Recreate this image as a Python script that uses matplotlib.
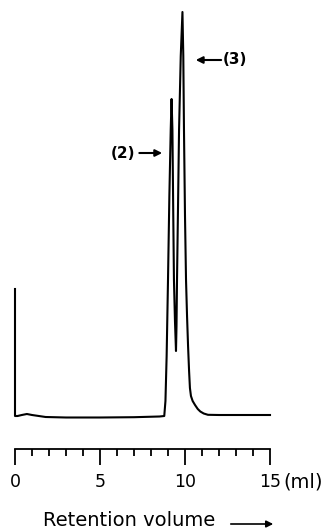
import matplotlib
matplotlib.use("Agg")
import matplotlib.pyplot as plt
from matplotlib.ticker import MultipleLocator

# Chromatogram trace (retention volume in ml, detector signal in arb. units)
volume_ml = [0.0, 0.0, 0.15, 0.4, 0.7, 1.0, 1.8, 3.0, 5.0, 7.0, 8.5, 8.78, 8.85, 8.92, 9.0, 9.08,
             9.16, 9.21, 9.26, 9.31, 9.35, 9.41, 9.47, 9.50, 9.53, 9.59, 9.65, 9.75, 9.85,
             9.90, 9.94, 10.0, 10.06, 10.12, 10.18, 10.24, 10.29, 10.35, 10.45, 10.59, 10.75,
             10.9, 11.1, 11.35, 12.0, 15.0]
signal = [127, 0, 0, 1, 2, 1, -1, -1.5, -1.5, -1.2, -0.5, 0, 15, 60, 136, 220,
          286, 317, 286, 200, 136, 95, 65, 90, 136, 210, 286, 360, 404,
          360, 286, 200, 136, 100, 70, 45, 28, 20, 15, 11, 7,
          4.5, 2.5, 1.2, 1, 1]

tick_major = [0, 5, 10, 15]
tick_labels = ["0", "5", "10", "15"]
peak_labels = ["(2)", "(3)"]
peak_tips = [(8.82, 263), (10.47, 356)]
label_pos = [(6.35, 263), (12.94, 356)]

W, H = 333, 532
fig = plt.figure(figsize=(W / 100, H / 100), dpi=100)
left_px, right_px = 15, 270
top_px, bottom_px = 6, 426
ax = fig.add_axes([left_px / W, 1 - bottom_px / H, (right_px - left_px) / W, (bottom_px - top_px) / H])
ax.set_xlim(0, 15)
ax.set_ylim(-10, 410)

ax.plot(volume_ml, signal, color="black", lw=1.5, solid_joinstyle="round", clip_on=False)

for sp in ["top", "right", "left"]:
    ax.spines[sp].set_visible(False)
ax.spines["bottom"].set_position(("outward", 16.5))
ax.spines["bottom"].set_bounds(0, 15)
ax.spines["bottom"].set_linewidth(1.3)
ax.set_yticks([])
ax.set_xticks(tick_major)
ax.set_xticklabels(tick_labels)
ax.xaxis.set_minor_locator(MultipleLocator(1))
ax.tick_params(axis="x", which="major", direction="out", length=11.5, width=1.3, pad=6, labelsize=12.5)
ax.tick_params(axis="x", which="minor", direction="out", length=5, width=1.3)

fig.text(283 / W, 1 - 482 / H, "(ml)", fontsize=14, ha="left", va="center")
fig.text(129 / W, 1 - 521 / H, "Retention volume", fontsize=14, ha="center", va="center")
fig.add_artist(matplotlib.patches.FancyArrowPatch((228 / W, 1 - 524 / H), (276 / W, 1 - 524 / H),
               transform=fig.transFigure, arrowstyle="-|>", mutation_scale=10, lw=1.2, color="black"))

for lab, tip, pos in zip(peak_labels, peak_tips, label_pos):
    ax.annotate("", xy=tip, xytext=(pos[0] + (0.8 if tip[0] > pos[0] else -0.65), pos[1]),
                arrowprops=dict(arrowstyle="-|>", lw=1.5, color="black", mutation_scale=10))
    ax.text(pos[0], pos[1], lab, fontsize=11, fontweight="bold", ha="center", va="center")

fig.savefig("out.png", dpi=100)
